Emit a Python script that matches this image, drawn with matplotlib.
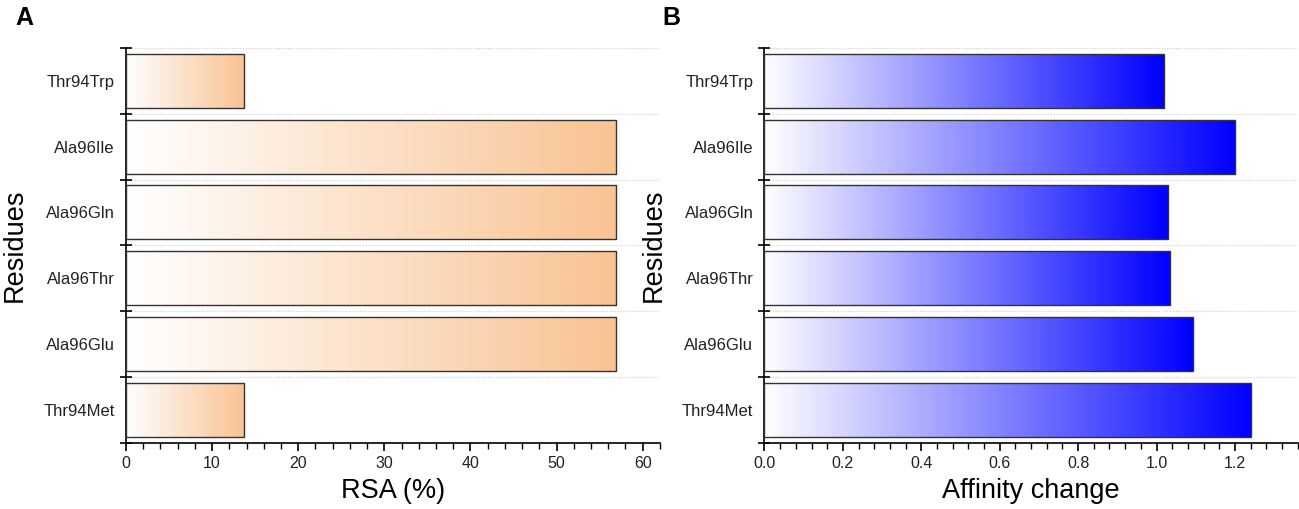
import numpy as np
import matplotlib.pyplot as plt
from matplotlib.colors import LinearSegmentedColormap
from matplotlib.ticker import MultipleLocator, FixedLocator, NullFormatter

plt.rcParams['font.family'] = ['Liberation Sans', 'DejaVu Sans']

# Dados (de cima para baixo)
residues = ['Thr94Trp', 'Ala96Ile', 'Ala96Gln', 'Ala96Thr', 'Ala96Glu', 'Thr94Met']
rsa = [13.7, 56.9, 56.9, 56.9, 56.9, 13.7]
affinity = [1.020, 1.201, 1.028, 1.034, 1.092, 1.241]

cmap_a = LinearSegmentedColormap.from_list('laranja', ['#FFFFFF', '#F9C393'])
cmap_b = LinearSegmentedColormap.from_list('azul', ['#FFFFFF', '#0000FF'])

fig = plt.figure(figsize=(12.99, 5.09), dpi=100)
ax_a = fig.add_axes([0.097, 0.130, 0.411, 0.776])
ax_b = fig.add_axes([0.5885, 0.130, 0.4105, 0.776])

grad = np.linspace(0, 1, 256).reshape(1, -1)


def painel(ax, valores, cmap, xmax, major, minor, xlabel, fmt):
    y = np.arange(len(residues))
    h = 0.82
    bars = ax.barh(y, valores, height=h, color='none', edgecolor='#333333',
                   linewidth=1.0, zorder=3)
    for b, v, yy in zip(bars, valores, y):
        im = ax.imshow(grad, extent=[0, v, yy - h / 2, yy + h / 2], aspect='auto',
                       cmap=cmap, zorder=2, interpolation='bicubic')
        im.set_clip_path(b)
    ax.set_xlim(0, xmax)
    ax.set_ylim(len(residues) - 0.5, -0.5)

    for s in ['top', 'right']:
        ax.spines[s].set_visible(False)
    ax.spines['left'].set_linewidth(1.2)
    ax.spines['bottom'].set_linewidth(1.2)

    ax.set_yticks(y)
    ax.set_yticklabels(residues, fontsize=12, color='#222222')
    ax.tick_params(axis='y', which='major', length=0, pad=8)
    ax.yaxis.set_minor_locator(FixedLocator(np.arange(-0.5, len(residues), 1.0)))
    ax.tick_params(axis='y', which='minor', direction='inout', length=8, width=1.2)
    ax.grid(axis='y', which='minor', linestyle=(0, (1, 1.5)), color='#cccccc',
            linewidth=0.8, zorder=0)

    ax.xaxis.set_major_locator(MultipleLocator(major))
    ax.xaxis.set_minor_locator(MultipleLocator(minor))
    ax.xaxis.set_minor_formatter(NullFormatter())
    ax.xaxis.set_major_formatter(fmt)
    ax.tick_params(axis='x', which='major', direction='out', length=6, width=1.2,
                   labelsize=11.5, labelcolor='#222222')
    ax.tick_params(axis='x', which='minor', direction='out', length=4, width=1.0)

    ax.set_xlabel(xlabel, fontsize=19.5, labelpad=5)
    ax.set_ylabel('Residues', fontsize=19.5, labelpad=11)


painel(ax_a, rsa, cmap_a, 62, 10, 2, 'RSA (%)', '{x:.0f}')
painel(ax_b, affinity, cmap_b, 1.36, 0.2, 0.04, 'Affinity change', '{x:.1f}')

fig.text(0.0115, 0.951, 'A', fontsize=18, fontweight='bold')
fig.text(0.5096, 0.951, 'B', fontsize=18, fontweight='bold')

fig.savefig('out.png', dpi=100)
